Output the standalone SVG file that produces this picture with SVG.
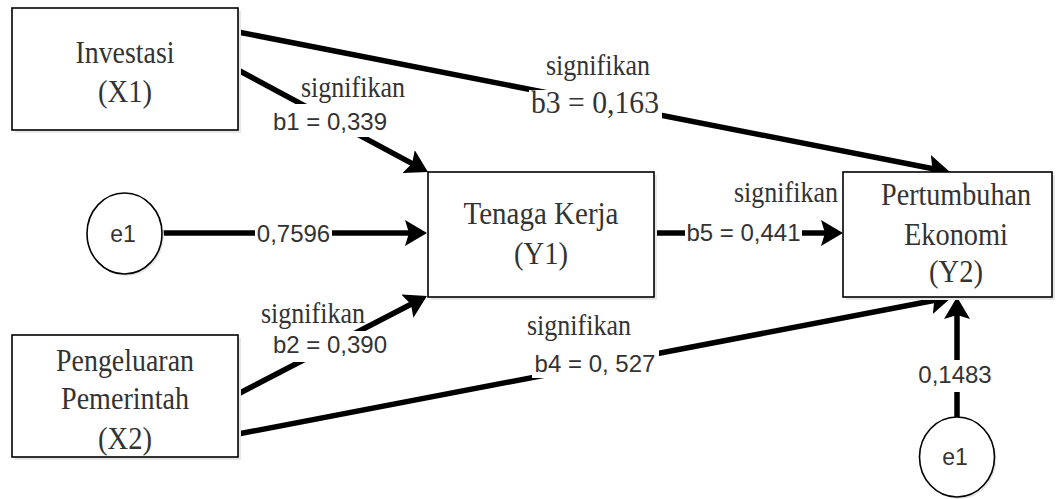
<svg xmlns="http://www.w3.org/2000/svg" width="1062" height="499" viewBox="0 0 1062 499">
<style>
.box{fill:#fff;stroke:#000;stroke-width:1.6}
.shadow{fill:#e6e6e6;stroke:none}
.serif{font-family:"Liberation Serif","Times New Roman",serif;fill:#333;text-anchor:middle}
.node{font-size:31px}
.sig{font-size:29px}
.sans{font-family:"Liberation Sans",Arial,sans-serif;fill:#333;text-anchor:middle;font-size:24px}
.e{font-size:23px}
.conn{stroke:#000;stroke-width:5.5;fill:none;marker-end:url(#arr)}
.lbg{fill:#fff;stroke:none}
</style>
<defs>
<marker id="arr" markerUnits="userSpaceOnUse" markerWidth="24" markerHeight="28" refX="10" refY="13" orient="auto">
<path d="M0,0 L22,13 L0,26 L4,13 z" fill="#000"/>
</marker>
</defs>
<rect width="1062" height="499" fill="#fff"/>
<g id="connectors">
<path class="conn" d="M238,32 L938.2,169.7"/>
<path class="conn" d="M238,70 L417.4,166.3"/>
<path class="conn" d="M162,233 L415,233"/>
<path class="conn" d="M654,233 L831,233"/>
<path class="conn" d="M238,394 L416.3,301.5"/>
<path class="conn" d="M238,434 L940.2,299.3"/>
<path class="conn" d="M957,417 L957,309"/>
</g>
<g id="labels">
<rect class="lbg" x="529" y="90" width="133" height="32"/>
<text class="serif sig" x="598" y="75" textLength="104" lengthAdjust="spacingAndGlyphs">signifikan</text>
<text class="serif" x="595" y="113" font-size="32" textLength="128" lengthAdjust="spacingAndGlyphs">b3 = 0,163</text>
<rect class="lbg" x="272" y="104" width="118" height="33"/>
<text class="serif sig" x="353" y="97" textLength="104" lengthAdjust="spacingAndGlyphs">signifikan</text>
<text class="sans" x="330" y="130">b1 = 0,339</text>
<rect class="lbg" x="255" y="222" width="77" height="24"/>
<text class="sans" x="293.5" y="242">0,7596</text>
<rect class="lbg" x="685" y="221" width="117" height="27"/>
<text class="serif sig" x="786" y="202" textLength="104" lengthAdjust="spacingAndGlyphs">signifikan</text>
<text class="sans" x="743.5" y="241">b5 = 0,441</text>
<rect class="lbg" x="272" y="331" width="117" height="31"/>
<text class="serif sig" x="313" y="323" textLength="104" lengthAdjust="spacingAndGlyphs">signifikan</text>
<text class="sans" x="330" y="353">b2 = 0,390</text>
<rect class="lbg" x="532" y="350" width="127" height="28"/>
<text class="serif sig" x="579" y="335" textLength="104" lengthAdjust="spacingAndGlyphs">signifikan</text>
<text class="sans" x="595" y="372">b4 = 0, 527</text>
<rect class="lbg" x="916" y="360" width="78" height="32"/>
<text class="sans" x="955" y="383">0,1483</text>
</g>
<g id="investasi">
<rect class="shadow" x="15" y="11" width="226" height="122"/>
<rect class="box" x="12" y="8" width="226" height="122"/>
<text class="serif node" x="125" y="63" textLength="99" lengthAdjust="spacingAndGlyphs">Investasi</text>
<text class="serif node" x="125" y="102" textLength="54" lengthAdjust="spacingAndGlyphs">(X1)</text>
</g>
<g id="tenaga">
<rect class="shadow" x="431" y="175" width="226" height="125"/>
<rect class="box" x="428" y="172" width="226" height="125"/>
<text class="serif node" x="541" y="224" textLength="155" lengthAdjust="spacingAndGlyphs">Tenaga Kerja</text>
<text class="serif node" x="541" y="264" textLength="54" lengthAdjust="spacingAndGlyphs">(Y1)</text>
</g>
<g id="pertumbuhan">
<rect class="shadow" x="846" y="175" width="209" height="125"/>
<rect class="box" x="843" y="172" width="209" height="125"/>
<text class="serif node" x="956" y="205" textLength="150" lengthAdjust="spacingAndGlyphs">Pertumbuhan</text>
<text class="serif node" x="956" y="245" textLength="104" lengthAdjust="spacingAndGlyphs">Ekonomi</text>
<text class="serif node" x="956" y="282" textLength="54" lengthAdjust="spacingAndGlyphs">(Y2)</text>
</g>
<g id="pengeluaran">
<rect class="shadow" x="15" y="338" width="226" height="122"/>
<rect class="box" x="12" y="335" width="226" height="122"/>
<text class="serif node" x="125" y="371" textLength="138" lengthAdjust="spacingAndGlyphs">Pengeluaran</text>
<text class="serif node" x="125" y="409" textLength="128" lengthAdjust="spacingAndGlyphs">Pemerintah</text>
<text class="serif node" x="125" y="449" textLength="54" lengthAdjust="spacingAndGlyphs">(X2)</text>
</g>
<g id="e1-left">
<ellipse class="shadow" cx="126.5" cy="235.5" rx="37.5" ry="40.5"/>
<ellipse class="box" cx="124.5" cy="233.5" rx="37.5" ry="40.5"/>
<text class="sans e" x="123" y="242">e1</text>
</g>
<g id="e1-bottom">
<ellipse class="shadow" cx="959" cy="459" rx="37.5" ry="40"/>
<ellipse class="box" cx="957" cy="457" rx="37.5" ry="40"/>
<text class="sans e" x="955" y="465">e1</text>
</g>
</svg>
